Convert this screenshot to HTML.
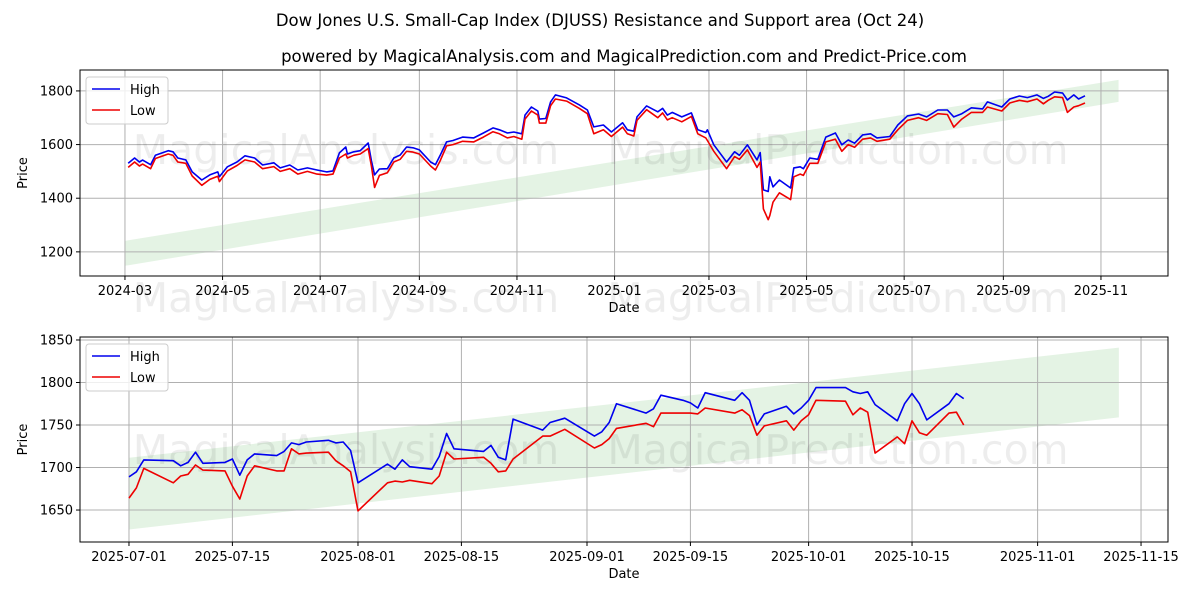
<!DOCTYPE html>
<html><head><meta charset="utf-8"><style>
body{margin:0;background:#fff;}
svg{display:block;font-family:"DejaVu Sans","Liberation Sans",sans-serif;}
</style></head><body>
<svg id="chart" width="1200" height="600" xmlns="http://www.w3.org/2000/svg">
<text x="600" y="26" text-anchor="middle" font-size="16.5">Dow Jones U.S. Small-Cap Index (DJUSS) Resistance and Support area (Oct 24)</text>
<text x="624" y="62" text-anchor="middle" font-size="16.5">powered by MagicalAnalysis.com and MagicalPrediction.com and Predict-Price.com</text>
</svg>
<script>
// Top chart: day offsets from 2024-03-01
const topDays=[2,6,9,11,16,19,27,30,33,38,42,48,53,58,59,64,70,75,81,86,93,97,103,108,114,120,126,130,134,138,139,143,147,152,154,156,159,164,168,172,176,180,184,191,194,197,201,205,211,218,224,230,234,239,243,248,250,254,258,259,263,266,269,276,284,289,293,299,304,311,314,318,320,326,333,336,339,342,348,354,358,363,364,368,376,381,384,389,395,397,399,402,403,405,409,416,418,422,424,428,433,438,444,448,452,456,461,466,470,478,483,489,496,501,508,514,518,523,529,536,539,548,553,559,564,570,574,577,581,586,589,593,596,600];
const topHigh=[1530,1550,1535,1542,1525,1560,1577,1573,1550,1543,1498,1468,1487,1498,1480,1517,1535,1558,1550,1524,1532,1513,1524,1505,1513,1505,1498,1502,1569,1591,1565,1573,1577,1606,1540,1487,1509,1510,1550,1561,1591,1588,1580,1535,1525,1560,1610,1615,1628,1625,1643,1662,1655,1643,1647,1640,1710,1740,1725,1695,1697,1759,1785,1774,1748,1729,1666,1673,1647,1681,1655,1650,1703,1744,1722,1735,1710,1720,1703,1718,1655,1645,1655,1599,1535,1573,1560,1599,1543,1570,1431,1425,1480,1442,1468,1438,1513,1517,1510,1550,1545,1628,1643,1599,1617,1605,1636,1640,1625,1630,1673,1707,1714,1703,1729,1729,1703,1715,1737,1733,1759,1740,1770,1781,1775,1785,1772,1780,1796,1792,1766,1785,1770,1782];
const topLow=[1515,1535,1520,1527,1510,1548,1565,1560,1535,1530,1483,1448,1470,1482,1462,1502,1522,1543,1535,1510,1518,1500,1510,1490,1500,1490,1486,1490,1550,1565,1550,1560,1565,1585,1520,1440,1485,1495,1535,1545,1575,1572,1565,1520,1505,1540,1595,1600,1612,1610,1628,1648,1640,1625,1630,1620,1695,1725,1710,1680,1680,1745,1770,1762,1735,1715,1640,1655,1630,1665,1640,1632,1690,1730,1700,1718,1692,1700,1685,1705,1640,1625,1615,1575,1510,1555,1545,1580,1515,1535,1360,1320,1335,1385,1420,1395,1480,1490,1485,1530,1530,1610,1620,1575,1600,1590,1620,1625,1612,1620,1655,1690,1700,1690,1715,1712,1665,1695,1720,1720,1740,1725,1755,1765,1760,1770,1752,1765,1778,1775,1720,1740,1745,1755];
// Bottom chart: day offsets from 2025-07-01
const botDays=[0,1,2,6,7,8,9,10,13,14,15,16,17,20,21,22,23,24,27,28,29,30,31,35,36,37,38,41,42,43,44,48,49,50,51,52,56,57,59,63,64,65,66,70,71,72,75,76,77,78,82,83,84,85,86,89,90,91,92,93,97,98,99,100,101,104,105,106,107,108,111,112,113];
const botHigh=[1689,1695,1709,1708,1702,1706,1718,1705,1706,1710,1691,1709,1716,1714,1719,1729,1727,1730,1732,1729,1730,1720,1682,1704,1698,1709,1701,1698,1713,1740,1722,1719,1726,1712,1709,1757,1744,1753,1758,1737,1742,1753,1775,1764,1769,1785,1779,1776,1770,1788,1779,1788,1779,1750,1763,1772,1763,1770,1779,1794,1794,1789,1787,1789,1774,1755,1775,1787,1775,1756,1775,1787,1781];
const botLow=[1664,1676,1699,1682,1690,1692,1703,1697,1696,1678,1663,1690,1702,1696,1696,1722,1716,1717,1718,1708,1702,1695,1649,1682,1684,1683,1685,1681,1690,1718,1710,1712,1705,1695,1696,1710,1737,1737,1745,1723,1727,1734,1746,1752,1748,1764,1764,1764,1763,1770,1764,1768,1761,1738,1749,1755,1744,1755,1762,1779,1778,1762,1770,1765,1717,1736,1728,1755,1741,1738,1764,1765,1750];
const topTickLabels=["2024-03","2024-05","2024-07","2024-09","2024-11","2025-01","2025-03","2025-05","2025-07","2025-09","2025-11"];
const topTickDays=[0,61,122,184,245,306,365,426,487,549,610];
const topYTicks=[1200,1400,1600,1800];
const botTickLabels=["2025-07-01","2025-07-15","2025-08-01","2025-08-15","2025-09-01","2025-09-15","2025-10-01","2025-10-15","2025-11-01","2025-11-15"];
const botTickDays=[0,14,31,45,62,76,92,106,123,137];
const botYTicks=[1650,1700,1750,1800,1850];
// Band (days from 2024-03-01): start/end upper & lower
const bandDays=[0,621];
const bandUpper=[1241,1841];
const bandLower=[1148,1759];

const svg=document.getElementById('chart');
const NS='http://www.w3.org/2000/svg';
function mk(tag,attrs,parent){const e=document.createElementNS(NS,tag);for(const k in attrs)e.setAttribute(k,attrs[k]);(parent||svg).appendChild(e);return e;}

function drawPanel(p){
  const g=mk('g',{});
  
  
  const X=d=>p.x0+(d-p.dmin)/(p.dmax-p.dmin)*(p.x1-p.x0);
  const Y=v=>p.y1-(v-p.vmin)/(p.vmax-p.vmin)*(p.y1-p.y0);
  const bx=[p.bandD0,bandDays[1]];
  const lin=(arr,d)=>arr[0]+(arr[1]-arr[0])*(d-bandDays[0])/(bandDays[1]-bandDays[0]);
  const band=mk('polygon',{points:[[X(bx[0]),Y(lin(bandUpper,bx[0]))],[X(bx[1]),Y(lin(bandUpper,bx[1]))],[X(bx[1]),Y(lin(bandLower,bx[1]))],[X(bx[0]),Y(lin(bandLower,bx[0]))]].map(a=>a.join(',')).join(' '),fill:'#2ca02c','fill-opacity':'0.13'},g);
  
  
  p.xt.forEach((d,i)=>{const x=X(d);
    const l=mk('line',{x1:x,x2:x,y1:p.y0,y2:p.y1,stroke:'#b0b0b0','stroke-width':1},g);
    
    mk('line',{x1:x,x2:x,y1:p.y1,y2:p.y1+4,stroke:'#000'},g);
    const t=mk('text',{x:x,y:p.y1+19,'text-anchor':'middle','font-size':13},g);t.textContent=p.xl[i];
    
  });
  p.yt.forEach(v=>{const y=Y(v);
    const l=mk('line',{x1:p.x0,x2:p.x1,y1:y,y2:y,stroke:'#b0b0b0','stroke-width':1},g);
    
    mk('line',{x1:p.x0-4,x2:p.x0,y1:y,y2:y,stroke:'#000'},g);
    const t=mk('text',{x:p.x0-7,y:y+4.5,'text-anchor':'end','font-size':13},g);t.textContent=v;
    
  });
  [[346,p.wy,'MagicalAnalysis.com'],[838,p.wy,'MagicalPrediction.com']].forEach(w=>{
    const t=mk('text',{x:w[0],y:w[1],'text-anchor':'middle','font-size':41,fill:'#000','fill-opacity':'0.07'},g);t.textContent=w[2];
    
  });
  const path=(ds,vs)=>ds.map((d,i)=>(i?'L':'M')+X(d+p.off).toFixed(1)+','+Y(vs[i]).toFixed(1)).join(' ');
  const hl=mk('path',{d:path(p.days,p.high),fill:'none',stroke:'#0000ee','stroke-width':1.6,'stroke-linejoin':'round'},g);
  
  const ll=mk('path',{d:path(p.days,p.low),fill:'none',stroke:'#ee0000','stroke-width':1.6,'stroke-linejoin':'round'},g);
  
  const fr=mk('rect',{x:p.x0,y:p.y0,width:p.x1-p.x0,height:p.y1-p.y0,fill:'none',stroke:'#000','stroke-width':1},g);
  
  const xt=mk('text',{x:(p.x0+p.x1)/2,y:p.y1+36,'text-anchor':'middle','font-size':13},g);xt.textContent='Date';
  
  const yc=(p.y0+p.y1)/2;
  const yt=mk('text',{x:27,y:yc,'text-anchor':'middle','font-size':13,transform:'rotate(-90 27 '+yc+')'},g);yt.textContent='Price';
  
  const lg=mk('g',{},g);
  
  mk('rect',{x:p.x0+6,y:p.y0+7,width:82,height:47,rx:3,fill:'#fff','fill-opacity':0.8,stroke:'#ccc'},lg);
  [['High','#0000ee',p.y0+19],['Low','#ee0000',p.y0+40]].forEach(e=>{
    const it=mk('g',{},lg);
    
    mk('line',{x1:p.x0+12,x2:p.x0+40,y1:e[2],y2:e[2],stroke:e[1],'stroke-width':1.6},it);
    const t=mk('text',{x:p.x0+50,y:e[2]+5,'font-size':13},it);t.textContent=e[0];
  });
}
drawPanel({name:'top-panel',x0:80,x1:1168,y0:70,y1:276,dmin:-28.1,dmax:651.9,vmin:1110,vmax:1878,
  xt:topTickDays,xl:topTickLabels,yt:topYTicks,days:topDays,high:topHigh,low:topLow,off:0,bandD0:0,wy:164});
drawPanel({name:'bottom-panel',x0:80,x1:1168,y0:337,y1:542,dmin:487-6.63,dmax:487+140.65,vmin:1612.4,vmax:1853.5,
  xt:botTickDays.map(d=>d+487),xl:botTickLabels,yt:botYTicks,days:botDays,high:botHigh,low:botLow,off:487,bandD0:487,wy:464});
[[346,312,'MagicalAnalysis.com'],[838,312,'MagicalPrediction.com']].forEach(w=>{
  const t=mk('text',{x:w[0],y:w[1],'text-anchor':'middle','font-size':41,fill:'#000','fill-opacity':'0.07'});t.textContent=w[2];
  
  
});
</script>
</body></html>
